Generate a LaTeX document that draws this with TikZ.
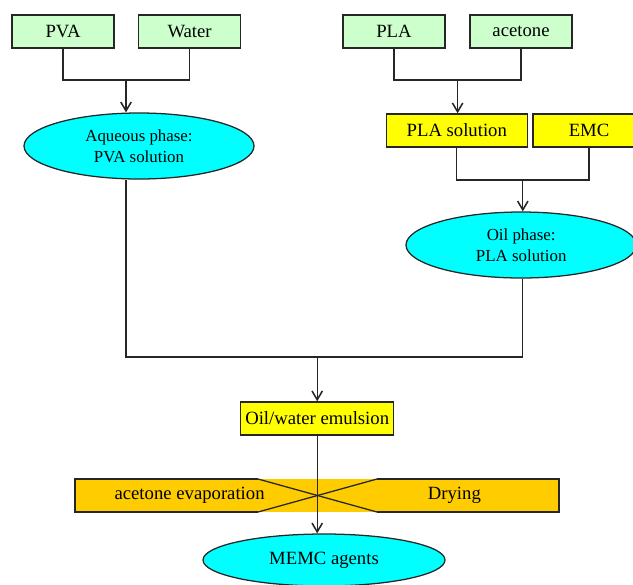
\documentclass[tikz,border=0pt]{standalone}
\usepackage{fontspec}
\setmainfont{Liberation Serif}
\usetikzlibrary{calc,shapes,arrows.meta,positioning}

\definecolor{ingreen}{HTML}{CCFFCC}
\definecolor{stepyellow}{HTML}{FFFF00}
\definecolor{phasecyan}{HTML}{00FFFF}
\definecolor{bandorange}{HTML}{FFCC00}

\begin{document}
\begin{tikzpicture}[
  box/.style={rectangle, draw=black!85, line width=0.9pt, minimum width=2.55cm, minimum height=0.825cm, inner sep=0pt, text centered, font=\fontsize{13.3}{15}\selectfont},
  phase/.style={ellipse, draw=black!85, line width=0.9pt, fill=phasecyan, inner sep=0pt, minimum height=1.65cm, align=center, font=\fontsize{12}{15}\selectfont},
  line/.style={draw=black!85, line width=0.9pt},
  arrow/.style={line, -{Straight Barb[length=2.2mm, width=2.6mm, line width=1.1pt]}}
]
  \useasboundingbox (0,0) rectangle (15.825,-14.6);

  \node[box, fill=ingreen] (pva) at (1.575,-0.79) {PVA};
  \node[box, fill=ingreen] (water) at (4.74,-0.79) {Water};
  \node[box, fill=ingreen] (pla) at (9.85,-0.79) {PLA};
  \node[box, fill=ingreen] (acetone) at (13.025,-0.79) {acetone};

  \node[phase, minimum width=5.75cm] (aq) at (3.475,-3.65) {Aqueous phase:\\PVA solution};
  \node[box, fill=stepyellow, minimum width=3.525cm] (plasol) at (11.42,-3.26) {PLA solution};
  \node[box, fill=stepyellow, minimum width=2.8cm] (emc) at (14.725,-3.26) {EMC};
  \node[phase, minimum width=5.76cm] (oil) at (13.03,-6.125) {Oil phase:\\PLA solution};

  \node[box, fill=stepyellow, minimum width=3.825cm] (emul) at (7.93,-10.46) {Oil/water emulsion};

  % evaporation / drying band
  \fill[bandorange] (1.875,-11.975) rectangle (13.975,-12.8);
  \draw[line] (6.45,-11.975) -- (1.875,-11.975) -- (1.875,-12.8) -- (6.45,-12.8);
  \draw[line] (9.425,-11.975) -- (13.975,-11.975) -- (13.975,-12.8) -- (9.425,-12.8);
  \draw[line] (6.45,-11.975) -- (9.425,-12.8);
  \draw[line] (6.45,-12.8) -- (9.425,-11.975);
  \node[font=\fontsize{13.3}{15}\selectfont] (evap) at (4.74,-12.39) {acetone evaporation};
  \node[font=\fontsize{13.3}{15}\selectfont] (dry) at (11.36,-12.39) {Drying};

  \node[phase, minimum width=6.05cm, minimum height=1.3cm, font=\fontsize{13.3}{15}\selectfont] (memc) at (8.1,-14.0) {MEMC agents};

  % joins
  \coordinate (j1) at (3.15,-2.0);
  \coordinate (j2) at (11.44,-2.0);
  \coordinate (j3) at (13.07,-4.5);
  \coordinate (j4) at (7.93,-8.925);

  \draw[line] (pva.south) |- (j1) -| (water.south);
  \draw[arrow] (j1) -- (j1 |- aq.north);
  \draw[line] (pla.south) |- (j2) -| (acetone.south);
  \draw[arrow] (j2) -- (j2 |- plasol.north);
  \draw[line] (plasol.south) |- (j3) -| (emc.south);
  \draw[arrow] (j3) -- (j3 |- oil.north);
  \draw[line] (j1 |- aq.south) |- (j4) -| (j3 |- oil.south);
  \draw[arrow] (j4) -- (emul.north);
  \draw[arrow] (emul.south) -- (emul.south |- memc.north);
\end{tikzpicture}
\end{document}
